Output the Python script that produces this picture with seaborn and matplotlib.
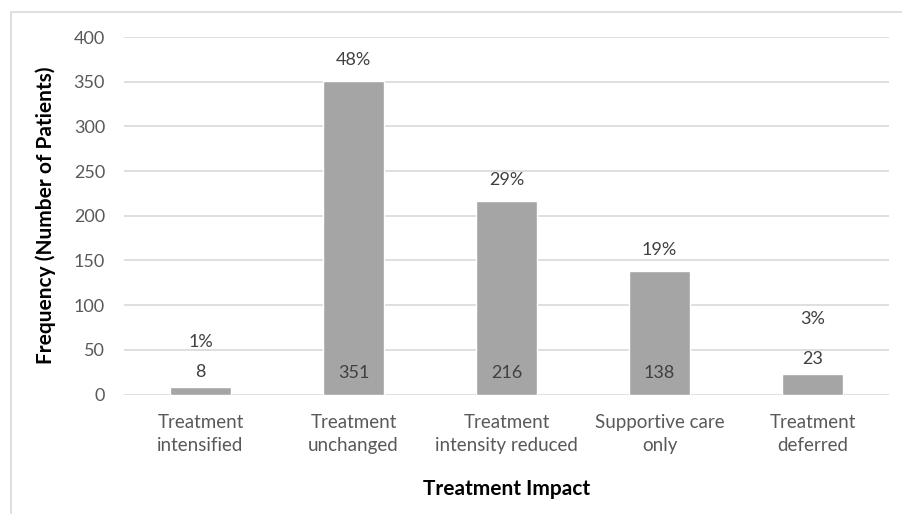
import matplotlib
matplotlib.use("Agg")
import matplotlib.pyplot as plt
from matplotlib.patches import Rectangle
import seaborn as sns
import pandas as pd

# Treatment impact categories and patient counts
categories = ["Treatment\nintensified", "Treatment\nunchanged", "Treatment\nintensity reduced",
              "Supportive care\nonly", "Treatment\ndeferred"]
counts = [8, 351, 216, 138, 23]
percent_labels = ["1%", "48%", "29%", "19%", "3%"]
y_ticks = [0, 50, 100, 150, 200, 250, 300, 350, 400]

sns.set_theme(style="white")
plt.rcParams["font.family"] = ["Lato", "DejaVu Sans"]

W, H = 902, 514
fig = plt.figure(figsize=(W / 100, H / 100), dpi=100)
fig.patch.set_facecolor("white")

# chart frame (light grey border, open to the right and bottom)
fig.add_artist(Rectangle((11 / W, -0.1), 1.2, (H - 12) / H + 0.1, transform=fig.transFigure,
                         fill=False, edgecolor="#D9D9D9", linewidth=1.2))

left, right, top, bottom = 124, 889, 37, 394.5
ax = fig.add_axes([left / W, (H - bottom) / H, (right - left) / W, (bottom - top) / H])

df = pd.DataFrame({"impact": categories, "n": counts})
sns.barplot(data=df, x="impact", y="n", color="#A5A5A5", saturation=1, width=0.4, ax=ax, zorder=3)

ax.set_ylim(0, 400)
ax.set_xlim(-0.5, len(categories) - 0.5)
ax.set_yticks(y_ticks)
ax.yaxis.grid(True, color="#D9D9D9", linewidth=1.2, zorder=0)
ax.set_axisbelow(True)
for s in ax.spines.values():
    s.set_visible(False)
ax.tick_params(axis="both", length=0, colors="#595959")
ax.tick_params(axis="y", pad=13.7, labelsize=13)
ax.tick_params(axis="x", pad=14, labelsize=13.5)
for lbl in ax.get_xticklabels():
    lbl.set_linespacing(1.45)

ax.set_xlabel("Treatment Impact", fontsize=15, fontweight="bold", color="black", labelpad=17.5)
ax.set_ylabel("Frequency (Number of Patients)", fontsize=15, fontweight="bold", color="black",
              labelpad=13)

# value labels: inside the bar base when there is room, otherwise just above the bar
px = 400 / (bottom - top)  # data units per pixel
for i, (v, p) in enumerate(zip(counts, percent_labels)):
    if v / px > 30:
        cy = 21.5 * px
        py = v + 21 * px
    else:
        cy = v + 15 * px
        py = cy + (30 if v < 15 else 40) * px
    ax.text(i, cy, str(v), ha="center", va="center", fontsize=13, color="#404040", zorder=4)
    ax.text(i, py, p, ha="center", va="center", fontsize=13, color="#404040", zorder=4)

fig.savefig("out.png", dpi=100, facecolor="white")
